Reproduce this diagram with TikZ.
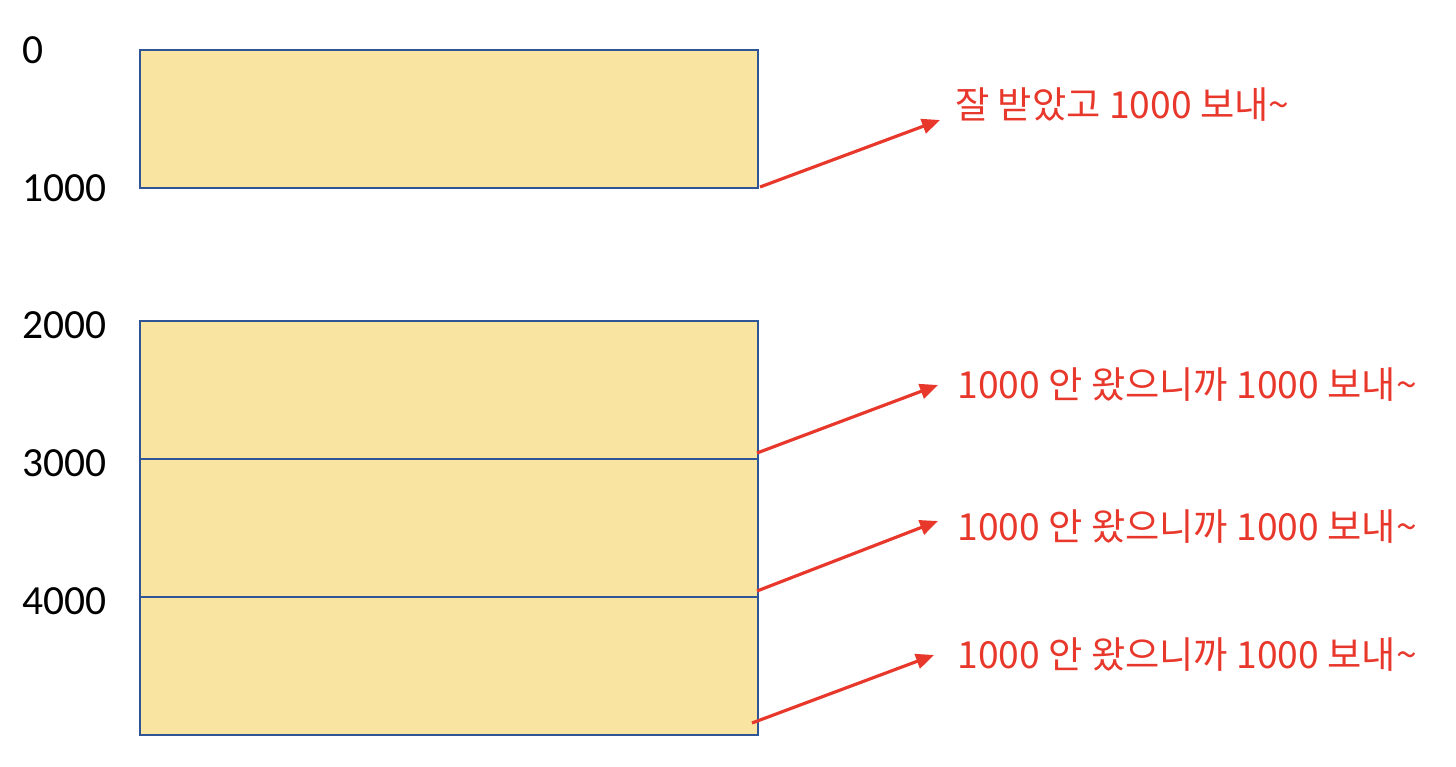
\documentclass[tikz,border=0pt]{standalone}
\usepackage{fontspec}
\setmainfont{Carlito}
\newfontfamily\krfont{Noto Sans CJK KR}
\usetikzlibrary{arrows.meta}
\definecolor{blockfill}{HTML}{F9E4A2}
\definecolor{blockline}{HTML}{2F5597}
\definecolor{msgred}{HTML}{E8372B}

\begin{document}
\begin{tikzpicture}[
  block/.style={rectangle, draw=blockline, line width=0.8pt, fill=blockfill,
                minimum width=12.36cm, minimum height=2.76cm, inner sep=0pt},
  offset/.style={anchor=west, inner sep=0pt, font=\fontsize{23.6}{26}\selectfont},
  msg/.style={anchor=west, inner sep=0pt, text=msgred,
              font=\krfont\fontsize{21.2}{24}\selectfont},
  send/.style={draw=msgred, line width=1.8pt,
               -{Triangle[length=3.6mm, width=3mm]}},
]

\useasboundingbox (0, 0) rectangle (29.12, -15.32);

% segments
\node[block] (seg0) at (8.98, -2.38) {};
\node[block] (seg2) at (8.98, -7.80) {};
\node[block] (seg3) at (8.98, -10.56) {};
\node[block] (seg4) at (8.98, -13.32) {};

% offsets
\node[offset] (o0) at (0.44, -1.00) {0};
\node[offset] (o1) at (0.44, -3.76) {1000};
\node[offset] (o2) at (0.44, -6.50) {2000};
\node[offset] (o3) at (0.44, -9.26) {3000};
\node[offset] (o4) at (0.44, -12.02) {4000};

% replies
\node[msg] (m1) at (19.10, -2.10) {잘 받았고 1000 보내\textasciitilde};
\node[msg] (m2) at (19.14, -7.70) {1000 안 왔으니까 1000 보내\textasciitilde};
\node[msg] (m3) at (19.14, -10.54) {1000 안 왔으니까 1000 보내\textasciitilde};
\node[msg] (m4) at (19.14, -13.10) {1000 안 왔으니까 1000 보내\textasciitilde};

\coordinate (s1) at (15.20, -3.74);
\coordinate (s2) at (15.14, -9.06);
\coordinate (s3) at (15.14, -11.82);
\coordinate (s4) at (15.04, -14.46);
\coordinate (t1) at (18.80, -2.40);
\coordinate (t2) at (18.76, -7.70);
\coordinate (t3) at (18.76, -10.42);
\coordinate (t4) at (18.68, -13.10);

\draw[send] (s1) -- (t1);
\draw[send] (s2) -- (t2);
\draw[send] (s3) -- (t3);
\draw[send] (s4) -- (t4);

\end{tikzpicture}
\end{document}
